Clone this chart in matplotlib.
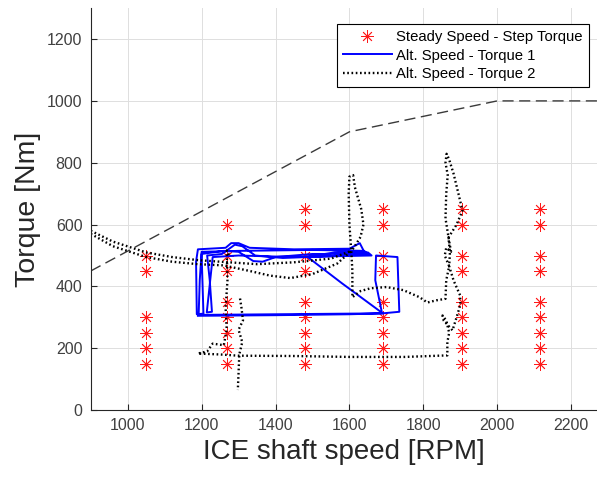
import numpy as np
import matplotlib.pyplot as plt

plt.rcParams['font.family'] = ['Liberation Sans', 'DejaVu Sans']

# steady speed / step torque operating points
step_speeds = [1050, 1270, 1480, 1690, 1905, 2115]
step_torques = {
    1050: [500, 450, 300, 250, 200, 150],
    1270: [600, 500, 450, 350, 300, 250, 200, 150],
    1480: [650, 600, 500, 450, 350, 300, 250, 200, 150],
    1690: [650, 600, 500, 450, 350, 300, 250, 200, 150],
    1905: [650, 600, 500, 450, 350, 300, 250, 200, 150],
    2115: [650, 600, 500, 450, 350, 300, 250, 200, 150],
}

# full load envelope
env_speed = [900, 1600, 2000, 2270]
env_torque = [450, 900, 1000, 1000]

# alternating speed - torque 1 (blue)
t1_speed = [1190, 1400, 1600, 1690, 1735, 1730, 1672, 1670, 1688, 1580, 1486,
            1560, 1640, 1628, 1600, 1450, 1330, 1300, 1280, 1265, 1190, 1185,
            1187, 1205, 1200, 1260, 1300, 1340, 1365, 1400, 1500, 1600, 1650,
            1660, 1450, 1300, 1230, 1214, 1228, 1222, 1215, 1255, 1290, 1310,
            1345, 1420, 1550, 1650, 1640, 1500, 1300, 1200, 1195, 1192, 1300,
            1500, 1690]
t1_torque = [305, 307, 310, 313, 318, 495, 500, 420, 315, 410, 496,
             510, 512, 540, 522, 520, 525, 540, 540, 525, 520, 480,
             310, 312, 505, 515, 512, 482, 480, 495, 505, 505, 510,
             500, 495, 500, 495, 316, 318, 420, 500, 505, 535, 530,
             500, 492, 498, 505, 515, 518, 515, 512, 420, 308, 309,
             311, 313]

# alternating speed - torque 2 (black dotted), NaN separates pieces
t2_speed = [900, 960, 1050, 1120, 1190, 1250, 1350, 1450, 1550, 1605, np.nan,
            900, 960, 1050, 1120, 1190, 1260, 1330, 1385, 1440, 1500, 1567, 1605,
            1600, 1598, 1600, 1610, 1615, 1632, 1638, 1630, 1612, 1605,
            1608, 1608, 1630, 1657, 1700, 1746, 1790, 1811, 1835, 1860,
            1862, 1870, 1858, 1862, 1875, 1868, 1860, 1862, 1866, 1860, 1863,
            1870, 1882, 1895, 1906, 1890, 1868, 1872, 1870,
            1882, 1900, 1900, 1890, 1879, 1855, 1852, 1862, 1870, 1865, 1865,
            1750, 1600, 1450, 1300, 1250, 1190, 1215, 1230, 1260, 1268, 1265,
            1270, 1268, 1275, np.nan,
            1304, 1308, 1312, 1300, 1310, 1302, 1300, 1298]
t2_torque = [580, 545, 510, 495, 485, 480, 472, 478, 490, 515, np.nan,
             570, 530, 495, 480, 472, 468, 450, 435, 427, 440, 474, 515,
             600, 700, 755, 760, 720, 650, 600, 560, 525, 515,
             450, 365, 385, 394, 398, 388, 365, 348, 355, 360,
             420, 465, 500, 525, 512, 560, 620, 700, 760, 800, 829,
             810, 764, 700, 645, 600, 558, 510, 465,
             419, 370, 340, 300, 258, 290, 306, 290, 250, 220, 177,
             172, 172, 175, 176, 180, 183, 190, 215, 210, 260, 330,
             420, 516, 500, np.nan,
             361, 330, 290, 260, 220, 180, 120, 65]

fig = plt.figure(figsize=(5.97, 4.78), dpi=100)
ax = fig.add_axes([0.152, 0.142, 0.848, 0.841])

ax.plot(env_speed, env_torque, color='#3a3a3a', lw=1.0, dashes=(8, 4))

first = True
for s in step_speeds:
    ax.plot([s] * len(step_torques[s]), step_torques[s], linestyle='none',
            marker=(8, 2, 0), color='#ff1a1a', markersize=9, markeredgewidth=0.6,
            label='Steady Speed - Step Torque' if first else None)
    first = False

ax.plot(t1_speed, t1_torque, color='blue', lw=1.4, label='Alt. Speed - Torque 1')
ax.plot(t2_speed, t2_torque, color='black', lw=1.7, linestyle=(0, (0.7, 1.1)),
        label='Alt. Speed - Torque 2')

ax.set_xlim(900, 2270)
ax.set_ylim(0, 1300)
ax.set_xticks(range(1000, 2201, 200))
ax.set_yticks(range(0, 1201, 200))
ax.grid(True, color='#dedede', lw=0.7)
ax.set_axisbelow(True)
for side in ['top', 'right']:
    ax.spines[side].set_visible(False)
for side in ['left', 'bottom']:
    ax.spines[side].set_color('#262626')
ax.tick_params(direction='in', length=4, labelsize=11.5, colors='#262626', pad=6)
for lbl in ax.get_xticklabels() + ax.get_yticklabels():
    lbl.set_color('#404040')

ax.set_xlabel('ICE shaft speed [RPM]', fontsize=20, color='#262626')
ax.set_ylabel('Torque [Nm]', fontsize=20.5, color='#262626')

leg = ax.legend(loc='upper right', bbox_to_anchor=(0.984, 0.960), borderaxespad=0,
                fontsize=10.7, handlelength=3.3, handletextpad=0.3,
                labelspacing=0.3, fancybox=False, framealpha=1, edgecolor='black')
leg.get_frame().set_linewidth(0.8)

fig.savefig('out.png', dpi=100)
